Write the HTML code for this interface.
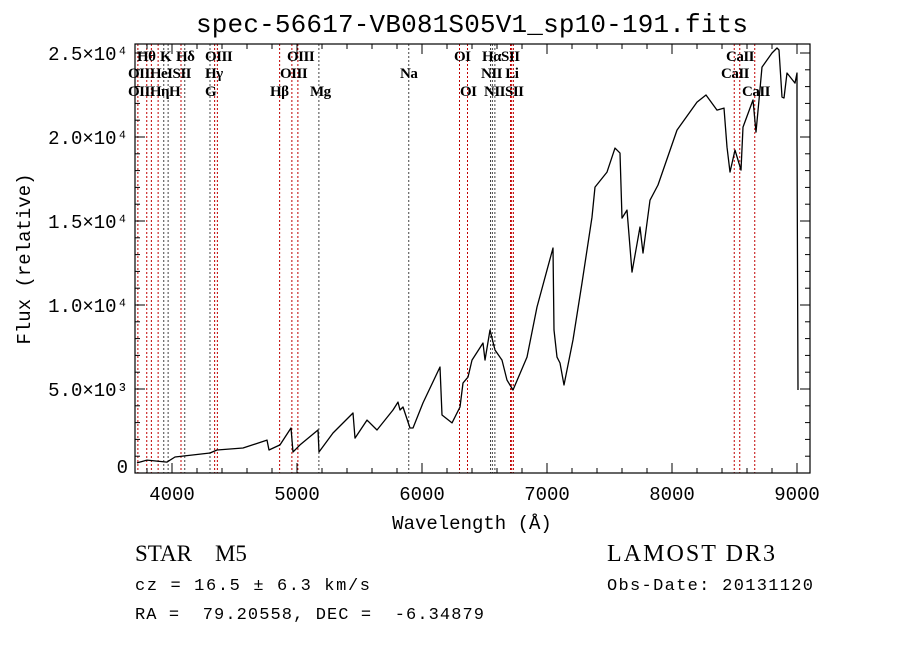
<!DOCTYPE html>
<html><head><meta charset="utf-8"><style>
body{margin:0;background:#fff;width:900px;height:649px;overflow:hidden}
svg{display:block}
.m{font-family:"Liberation Mono",monospace}
.s{font-family:"Liberation Serif",serif}
</style></head><body>
<svg id="c" width="900" height="649">
<text x="472" y="32" text-anchor="middle" class="m" font-size="26" textLength="552">spec-56617-VB081S05V1_sp10-191.fits</text>
<text x="472" y="529" text-anchor="middle" class="m" font-size="19">Wavelength (Å)</text>
<text transform="translate(30,259) rotate(-90)" text-anchor="middle" class="m" font-size="19">Flux (relative)</text>
<text x="135" y="561" class="s" font-size="23" xml:space="preserve">STAR    M5</text>
<text x="607" y="561" class="s" font-size="24" textLength="168">LAMOST DR3</text>
<text x="135" y="590" class="m" font-size="17" textLength="235">cz = 16.5 ± 6.3 km/s</text>
<text x="607" y="590" class="m" font-size="17" textLength="206">Obs-Date: 20131120</text>
<text x="135" y="619" class="m" font-size="17" textLength="349" xml:space="preserve">RA =  79.20558, DEC =  -6.34879</text>
<g id="g"></g>
</svg>
<script>
const wavelengths=[3720,3800,3960,4024,4304,4360,4568,4760,4776,4864,4952,4968,5024,5168,5176,5288,5448,5464,5560,5640,5768,5808,5824,5848,5904,5928,6008,6144,6160,6240,6304,6328,6368,6400,6488,6504,6544,6584,6640,6680,6728,6840,6920,7000,7048,7056,7080,7104,7136,7208,7280,7360,7384,7480,7544,7584,7600,7640,7680,7744,7768,7824,7888,8040,8200,8272,8360,8416,8440,8464,8504,8552,8568,8648,8672,8696,8720,8800,8840,8856,8880,8896,8920,8984,9000,9000,9008];
const fluxes=[600,770,650,950,1190,1370,1490,1960,1370,1670,2680,1250,1670,2560,1250,2380,3570,2080,3150,2560,3750,4220,3750,3930,2680,2680,4170,6310,3450,2980,3930,5360,5710,6720,7740,6720,8510,7320,6720,5530,4940,6900,9880,12080,13390,8510,6900,6550,5240,7920,11310,15230,17020,17910,19340,19040,15170,15650,11960,14640,13090,16240,17140,20410,22080,22500,21600,21720,19400,17910,19220,18030,20590,22200,20290,22200,24160,25000,25300,25180,22380,22320,23810,23210,23810,20000,4940];
const lineNames=["OII","Hθ","Hη","HeI","K","H","SII","Hδ","G","Hγ","OIII","Hβ","OIII","OIII","Mg","Na","OI","OI","NII","Hα","NII","Li","SII","SII","CaII","CaII","CaII"];
const lineWaves=[3727,3798,3835,3889,3934,3969,4072,4102,4304,4341,4363,4861,4959,5007,5175,5894,6300,6364,6548,6563,6583,6708,6717,6731,8498,8542,8662];
const lineEmit=[1,1,1,1,0,0,1,0,0,1,1,1,1,1,0,0,1,1,0,0,0,1,1,1,1,1,1];
const xTicks=[4000,5000,6000,7000,8000,9000];
const yTickVals=[0,5000,10000,15000,20000,25000];
const yTickLabels=["0","5.0×10³","1.0×10⁴","1.5×10⁴","2.0×10⁴","2.5×10⁴"];
const L=135,R=810,T=44,B=473;
const X=w=>172+(w-4000)*0.125;
const Y=f=>B-f*84/5000;
const NS="http://www.w3.org/2000/svg";
const g=document.getElementById('g');
function mk(t,a){const e=document.createElementNS(NS,t);for(const k in a)e.setAttribute(k,a[k]);g.appendChild(e);return e;}
lineWaves.forEach((w,i)=>{
 const e=mk('line',{x1:X(w),x2:X(w),y1:T,y2:B,stroke:lineEmit[i]?'#c00000':'#444','stroke-width':1,'stroke-dasharray':'2,2'});
 
 
});
const labs=[["Hθ",137,61],["K",160,61],["Hδ",176,61],["OIII",205,61],["OIII",287,61],["OI",454,61],["HαSII",482,61],["CaII",726,61],
["OIIHeISII",128,78],["Hγ",205,78],["OIII",280,78],["Na",400,78],["NII Li",481,78],["CaII",721,78],
["OIIHηH",128,96],["G",205,96],["Hβ",270,96],["Mg",310,96],["OI",460,96],["NIISII",484,96],["CaII",742,96]];
labs.forEach(l=>{const t=mk('text',{x:l[1],y:l[2],'font-size':15,class:'s','font-weight':'bold','letter-spacing':'-0.5'});t.textContent=l[0];
 
 });
let d='';wavelengths.forEach((w,i)=>{d+=(i?'L':'M')+X(w).toFixed(1)+','+Y(fluxes[i]).toFixed(1);});
const p=mk('path',{d:d,fill:'none',stroke:'#000','stroke-width':1.3,'stroke-linejoin':'round'});


const fr=mk('rect',{x:L,y:T,width:R-L,height:B-T,fill:'none',stroke:'#000','stroke-width':1.2});


for(let w=3800;w<=9100;w+=200){const maj=w%1000===0;const len=maj?10:5;
 mk('line',{x1:X(w),x2:X(w),y1:B,y2:B-len,stroke:'#000'});mk('line',{x1:X(w),x2:X(w),y1:T,y2:T+len,stroke:'#000'});}
xTicks.forEach(w=>{const t=mk('text',{x:X(w),y:B+27,'text-anchor':'middle','font-size':19,class:'m'});t.textContent=w;
 
 });
for(let f=0;f<=25500;f+=1000){const maj=f%5000===0;const len=maj?10:5;
 mk('line',{x1:L,x2:L+len,y1:Y(f),y2:Y(f),stroke:'#000'});mk('line',{x1:R,x2:R-len,y1:Y(f),y2:Y(f),stroke:'#000'});}
yTickVals.forEach((f,i)=>{const t=mk('text',{x:128,y:Y(f)+(i?7:0),'text-anchor':'end','font-size':19,class:'m'});t.textContent=yTickLabels[i];
 
 });
</script>
</body></html>
